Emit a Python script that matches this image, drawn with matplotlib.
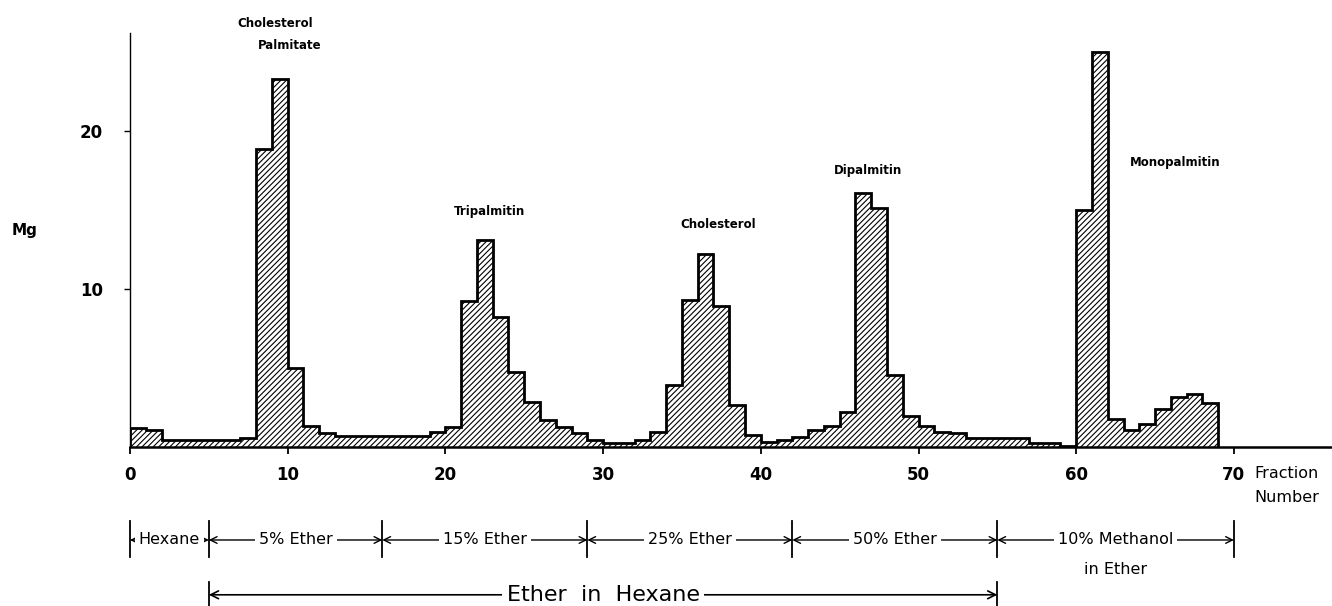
import numpy as np
import matplotlib.pyplot as plt

# mg per fraction, fractions 0..68
mg = [1.23, 1.1, 0.43, 0.43, 0.43, 0.43, 0.43, 0.6, 18.85, 23.3,
      5.0, 1.34, 0.91, 0.7, 0.7, 0.7, 0.7, 0.7, 0.7, 0.96,
      1.24, 9.25, 13.1, 8.2, 4.77, 2.84, 1.71, 1.24, 0.88, 0.43,
      0.24, 0.24, 0.43, 0.98, 3.95, 9.3, 12.2, 8.93, 2.63, 0.75,
      0.34, 0.45, 0.62, 1.07, 1.35, 2.24, 16.1, 15.1, 4.55, 1.94,
      1.35, 0.98, 0.88, 0.6, 0.6, 0.6, 0.6, 0.24, 0.24, 0.08,
      15.0, 25.0, 1.75, 1.07, 1.45, 2.4, 3.16, 3.35, 2.8]

x_ticks = [0, 10, 20, 30, 40, 50, 60, 70]
y_ticks = [10, 20]

# peak names and where they sit (fraction, mg)
peak_names = ["Cholesterol", "Palmitate", "Tripalmitin", "Cholesterol", "Dipalmitin", "Monopalmitin"]
peak_x = [9.2, 10.15, 22.8, 37.3, 46.8, 66.3]
peak_y = [26.8, 25.4, 14.9, 14.05, 17.5, 18.0]

# eluting solvents
solvent_bounds = [0, 5, 16, 29, 42, 55, 70]
solvent_names = ["Hexane", "5% Ether", "15% Ether", "25% Ether", "50% Ether", "10% Methanol"]
ether_span = [5, 55]

plt.rcParams['hatch.linewidth'] = 0.8

fig = plt.figure(figsize=(13.32, 6.06), dpi=100)
ax = fig.add_axes([130 / 1332, 159 / 606, 1202 / 1332, 414 / 606])

edges = np.arange(len(mg) + 1)
ax.stairs(mg, edges, fill=True, facecolor='white', edgecolor='black',
          hatch='//////', linewidth=2)

ax.set_xlim(0, 1202 / 15.77)
ax.set_ylim(0, 26.2)
ax.spines['top'].set_visible(False)
ax.spines['right'].set_visible(False)
ax.spines['left'].set_linewidth(1.0)
ax.spines['bottom'].set_linewidth(1.8)

ax.set_xticks(x_ticks)
ax.set_yticks(y_ticks)
ax.tick_params(axis='x', direction='out', length=5, width=1.3, pad=9, labelsize=12)
ax.tick_params(axis='y', direction='out', length=4.5, width=1, pad=15, labelsize=12)
for lab in ax.get_xticklabels() + ax.get_yticklabels():
    lab.set_fontweight('bold')

for name, px, py in zip(peak_names, peak_x, peak_y):
    ax.text(px, py, name, ha='center', va='center', fontsize=8.5,
            fontweight='bold', clip_on=False)

fig.text(25 / 1332, 1 - 230 / 606, 'Mg', fontsize=11, fontweight='bold',
         ha='center', va='center')

trans = ax.get_xaxis_transform()

ax.text(71.3, -0.063, 'Fraction', transform=trans, ha='left', va='center', fontsize=11.5)
ax.text(71.3, -0.123, 'Number', transform=trans, ha='left', va='center', fontsize=11.5)

# solvent row
row_y = -0.2246
for b in solvent_bounds:
    ax.plot([b, b], [-0.179, -0.266], transform=trans, color='black', lw=1.3, clip_on=False)

for i, name in enumerate(solvent_names):
    b0, b1 = solvent_bounds[i], solvent_bounds[i + 1]
    ax.annotate('', xy=(b0, row_y), xytext=(b1, row_y), xycoords=trans, textcoords=trans,
                arrowprops=dict(arrowstyle='<->', lw=1, shrinkA=0, shrinkB=0, mutation_scale=12),
                annotation_clip=False)
    ax.text((b0 + b1) / 2, row_y, name, transform=trans, ha='center', va='center',
            fontsize=11.5, zorder=5, clip_on=False,
            bbox=dict(facecolor='white', edgecolor='none', pad=3))

ax.text((solvent_bounds[5] + solvent_bounds[6]) / 2, -0.297, 'in Ether', transform=trans,
        ha='center', va='center', fontsize=11.5)

# ether in hexane span
eh_y = -0.357
for b in ether_span:
    ax.plot([b, b], [eh_y + 0.03, eh_y - 0.03], transform=trans, color='black', lw=1.3, clip_on=False)
ax.annotate('', xy=(ether_span[0], eh_y), xytext=(ether_span[1], eh_y), xycoords=trans,
            textcoords=trans,
            arrowprops=dict(arrowstyle='<->', lw=1.2, shrinkA=0, shrinkB=0, mutation_scale=14),
            annotation_clip=False)
ax.text(sum(ether_span) / 2, eh_y, 'Ether  in  Hexane', transform=trans, ha='center', va='center',
        fontsize=16, zorder=5, clip_on=False,
        bbox=dict(facecolor='white', edgecolor='none', pad=3))

fig.savefig('out.png', dpi=100)
